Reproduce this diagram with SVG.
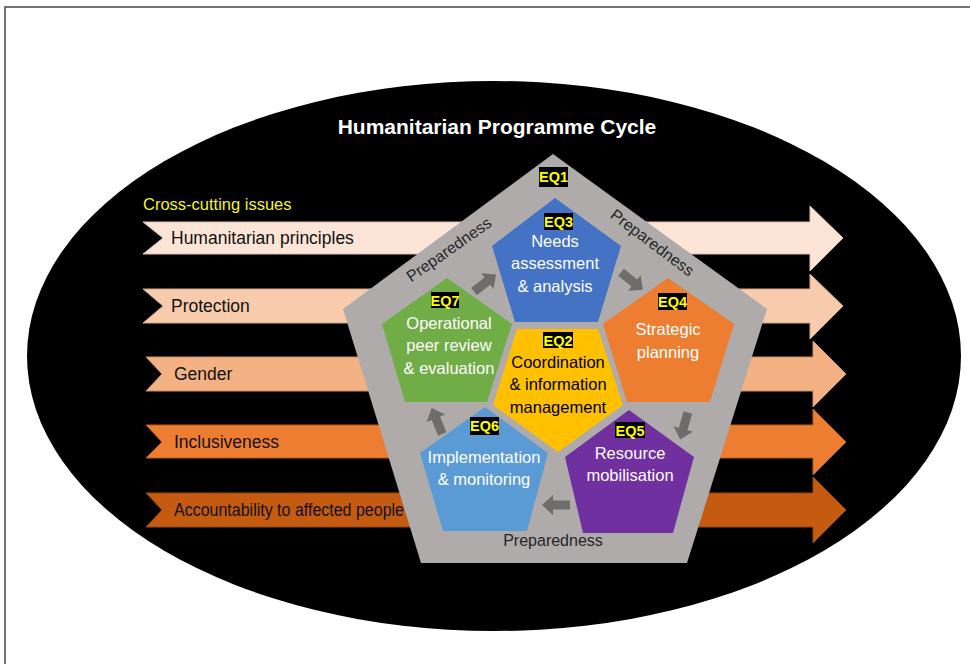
<svg xmlns="http://www.w3.org/2000/svg" width="970" height="664" viewBox="0 0 970 664">
<defs>
<style>
.t{font-family:"Liberation Sans",Arial,sans-serif}
.lab{font-family:"Liberation Sans",Arial,sans-serif;font-size:16.5px;fill:#ffffff;text-anchor:middle}
.labk{fill:#000000}
.iss{font-family:"Liberation Sans",Arial,sans-serif;font-size:17.5px;fill:#111111}
.prep{font-family:"Liberation Sans",Arial,sans-serif;font-size:16px;fill:#262626;text-anchor:middle}
.eqb{fill:#000000}
.eqt{font-family:"Liberation Sans",Arial,sans-serif;font-size:14.5px;font-weight:bold;fill:#ffff00;text-anchor:middle}
.ga{fill:#6f6c6c}
</style>
<path id="garrow" d="M-14,-4.5 H3 V-10 L14,0 L3,10 V4.5 H-14 Z"/>
</defs>

<path d="M5,664 V7 H970" fill="none" stroke="#444444" stroke-width="1.5"/>

<ellipse cx="494" cy="356" rx="467" ry="275" fill="#000000"/>

<text class="t" x="497" y="134" font-size="21" font-weight="bold" fill="#ffffff" text-anchor="middle">Humanitarian Programme Cycle</text>
<text class="t" x="143" y="210" font-size="16.5" fill="#f2f23a">Cross-cutting issues</text>

<g id="issues">
<g id="issue1">
<path d="M143,222 H810 V206 L843,238 L810,271 V254 H143 L163,238 Z" fill="#fce4d6" stroke="#d9bfae" stroke-width="1"/>
<text class="iss" x="171" y="244">Humanitarian principles</text>
</g>
<g id="issue2">
<path d="M143,289 H810 V274 L843,306 L810,339 V323 H143 L163,306 Z" fill="#f8cbad" stroke="#cfa88e" stroke-width="1"/>
<text class="iss" x="171" y="312">Protection</text>
</g>
<g id="issue3">
<path d="M146,357 H813 V341 L846,374 L813,407 V391 H146 L162,374 Z" fill="#f4b183" stroke="#c99069" stroke-width="1"/>
<text class="iss" x="174" y="380">Gender</text>
</g>
<g id="issue4">
<path d="M146,425 H813 V409 L846,442 L813,475 V458 H146 L162,442 Z" fill="#ed7d31" stroke="#b8601f" stroke-width="1"/>
<text class="iss" x="174" y="448">Inclusiveness</text>
</g>
<g id="issue5">
<path d="M146,493 H813 V477 L846,510 L813,543 V527 H146 L162,510 Z" fill="#c55a11" stroke="#9a450b" stroke-width="1"/>
<text class="iss" x="174" y="515.5" font-size="15" textLength="230" lengthAdjust="spacingAndGlyphs">Accountability to affected people</text>
</g>
</g>

<g id="EQ1-preparedness">
<path d="M553,154 L767,309 L687,563 L421,563 L343,309 Z" fill="#afabab"/>
<rect class="eqb" x="539" y="167" width="29" height="20"/>
<text class="eqt" x="553.5" y="182">EQ1</text>
<text class="prep" transform="translate(452,254) rotate(-35)">Preparedness</text>
<text class="prep" transform="translate(649,247) rotate(37)">Preparedness</text>
<text class="prep" x="553" y="546">Preparedness</text>
</g>

<g id="EQ3">
<path d="M555,198 L621,246 L598,322 L515,322 L492,246 Z" fill="#4472c4"/>
<rect class="eqb" x="544" y="213" width="29" height="17"/>
<text class="eqt" x="558.5" y="227">EQ3</text>
<text class="lab" x="555" y="247">Needs</text>
<text class="lab" x="555" y="269">assessment</text>
<text class="lab" x="555" y="292">&amp; analysis</text>
</g>

<g id="EQ7">
<path d="M447,278 L512,324 L487,402 L405,402 L382,324 Z" fill="#70ad47"/>
<rect class="eqb" x="431" y="292" width="28" height="16"/>
<text class="eqt" x="445" y="305.5">EQ7</text>
<text class="lab" x="449" y="329">Operational</text>
<text class="lab" x="449" y="351">peer review</text>
<text class="lab" x="449" y="374">&amp; evaluation</text>
</g>

<g id="EQ4">
<path d="M668,278 L734,324 L710,402 L627,402 L603,324 Z" fill="#ed7d31"/>
<rect class="eqb" x="658" y="293" width="29" height="17"/>
<text class="eqt" x="672.5" y="306.5">EQ4</text>
<text class="lab" x="668" y="335">Strategic</text>
<text class="lab" x="668" y="358">planning</text>
</g>

<g id="EQ2">
<path d="M517,329 L598,329 L623,405 L558,452 L493,405 Z" fill="#ffc000"/>
<rect class="eqb" x="543" y="332" width="30" height="16"/>
<text class="eqt" x="558" y="345.5">EQ2</text>
<text class="lab labk" x="558" y="367.5">Coordination</text>
<text class="lab labk" x="558" y="390">&amp; information</text>
<text class="lab labk" x="558" y="412.5">management</text>
</g>

<g id="EQ6">
<path d="M485,407 L548,453 L527,531 L443,531 L420,453 Z" fill="#5b9bd5"/>
<rect class="eqb" x="470" y="417" width="29" height="18"/>
<text class="eqt" x="484.5" y="431">EQ6</text>
<text class="lab" x="484" y="463">Implementation</text>
<text class="lab" x="484" y="485">&amp; monitoring</text>
</g>

<g id="EQ5">
<path d="M629,410 L694,457 L673,533 L583,533 L565,457 Z" fill="#7030a0"/>
<rect class="eqb" x="615" y="422" width="30" height="16"/>
<text class="eqt" x="630" y="435.5">EQ5</text>
<text class="lab" x="630" y="459">Resource</text>
<text class="lab" x="630" y="481">mobilisation</text>
</g>

<g id="connectors">
<use href="#garrow" class="ga" transform="translate(485,283) rotate(-38)"/>
<use href="#garrow" class="ga" transform="translate(632,281) rotate(39)"/>
<use href="#garrow" class="ga" transform="translate(684,426) rotate(106)"/>
<use href="#garrow" class="ga" transform="translate(556,505) rotate(180)"/>
<use href="#garrow" class="ga" transform="translate(437,421) rotate(-112)"/>
</g>
</svg>
